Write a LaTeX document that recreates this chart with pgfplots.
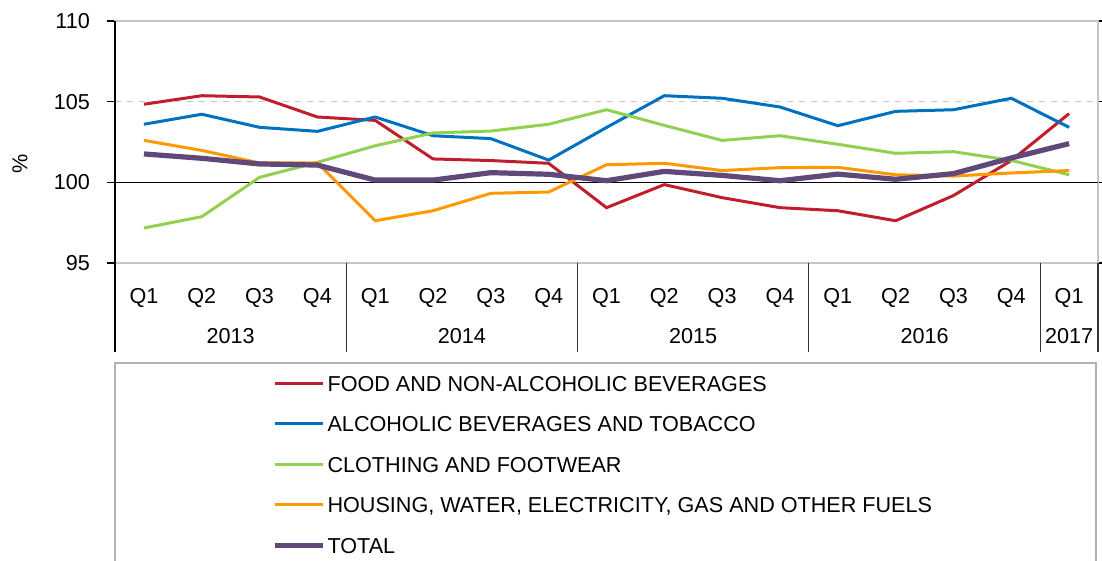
\documentclass[border=0pt]{standalone}
\usepackage{fontspec}
\setmainfont{Liberation Sans}
\usepackage{pgfplots}
\usepackage{pgfplotstable}
\pgfplotsset{compat=1.18}
\definecolor{cFood}{RGB}{192,30,45}
\definecolor{cAlc}{RGB}{0,112,192}
\definecolor{cCloth}{RGB}{146,208,80}
\definecolor{cHouse}{RGB}{255,153,0}
\definecolor{cTotal}{RGB}{96,73,122}
\pgfplotstableread{
x food alc cloth house total
0  104.84 103.60 97.17 102.60 101.76
1  105.37 104.22 97.87 101.98 101.49
2  105.29 103.41 100.31 101.20 101.14
3  104.05 103.16 101.24 101.20 101.07
4  103.84 104.05 102.27 97.62 100.14
5  101.45 102.89 103.06 98.24 100.14
6  101.35 102.71 103.18 99.32 100.60
7  101.18 101.38 103.60 99.40 100.50
8  98.43 103.40 104.50 101.09 100.10
9  99.86 105.37 103.53 101.18 100.68
10 99.05 105.21 102.60 100.73 100.43
11 98.43 104.67 102.89 100.91 100.10
12 98.24 103.51 102.36 100.93 100.51
13 97.62 104.40 101.80 100.47 100.19
14 99.18 104.50 101.90 100.39 100.54
15 101.35 105.21 101.36 100.58 101.51
16 104.26 103.41 100.47 100.73 102.40
}\datatable
\begin{document}
\begin{tikzpicture}[font=\fontsize{10.8}{13}\selectfont]
\clip (0pt,0pt) rectangle (551pt,-280.5pt);
\begin{axis}[
  at={(57.5pt,-131.5pt)}, anchor=south west,
  scale only axis, width=491.5pt, height=121pt,
  xmin=-0.5, xmax=16.5, ymin=95, ymax=110,
  clip=false,
  /pgf/number format/assume math mode=true,
  ytick={95,100,105,110},
  yticklabel style={font=\fontsize{10.8}{13}\selectfont, xshift=-5pt},
  xtick={0,...,16},
  xticklabels={Q1,Q2,Q3,Q4,Q1,Q2,Q3,Q4,Q1,Q2,Q3,Q4,Q1,Q2,Q3,Q4,Q1},
  xticklabel style={font=\fontsize{10.8}{13}\selectfont, anchor=base, yshift=-16pt},
  extra x ticks={1.5,5.5,9.5,13.5,16},
  extra x tick labels={2013,2014,2015,2016,2017},
  extra x tick style={xticklabel style={yshift=-20pt}},
  xtick style={draw=none},
  ytick style={black, line width=0.6pt},
  tick align=outside, major tick length=4pt,
  ymajorgrids, grid style={dashed, gray!45, line width=0.6pt},
  axis line style={gray!45, line width=0.8pt},
  ylabel={\%},
  ylabel style={at={(axis description cs:-0.0966,0.41)}, anchor=center, font=\fontsize{10.8}{13}\selectfont},
  legend cell align=left,
  legend style={at={(axis description cs:0.1597,-0.463)}, anchor=north west,
    draw=none, fill=none, inner sep=0pt, row sep=12.35pt, column sep=1pt,
    font=\fontsize{10.8}{13}\selectfont,
    nodes={inner sep=0pt, text height=7.9pt, text depth=0pt}},
  legend image code/.code={\draw[#1] (0pt,0pt) -- (24pt,0pt);},
]
\draw[dashed, gray!45, line width=0.8pt] (axis cs:-0.5,110) -- (axis cs:16.5,110);
\draw[black, line width=0.8pt] (axis cs:-0.5,100) -- (axis cs:16.5,100);
\draw[black, line width=0.8pt] (axis cs:-0.5,110) -- (axis cs:-0.5,95) -- ++(0pt,-44.5pt);
\draw[black!80, line width=0.6pt] (axis cs:3.5,95) -- ++(0pt,-44.5pt);
\draw[black!80, line width=0.6pt] (axis cs:7.5,95) -- ++(0pt,-44.5pt);
\draw[black!80, line width=0.6pt] (axis cs:11.5,95) -- ++(0pt,-44.5pt);
\draw[black!80, line width=0.6pt] (axis cs:15.5,95) -- ++(0pt,-44.5pt);
\draw[black!80, line width=0.6pt] (axis cs:16.5,95) -- ++(0pt,-44.5pt);
\addplot[cFood, line width=1.5pt] table[x=x,y=food] {\datatable};
\addlegendentry{FOOD AND NON-ALCOHOLIC BEVERAGES}
\addplot[cAlc, line width=1.5pt] table[x=x,y=alc] {\datatable};
\addlegendentry{ALCOHOLIC BEVERAGES AND TOBACCO}
\addplot[cCloth, line width=1.5pt] table[x=x,y=cloth] {\datatable};
\addlegendentry{CLOTHING AND FOOTWEAR}
\addplot[cHouse, line width=1.5pt] table[x=x,y=house] {\datatable};
\addlegendentry{HOUSING, WATER, ELECTRICITY, GAS AND OTHER FUELS}
\addplot[cTotal, line width=2.6pt] table[x=x,y=total] {\datatable};
\addlegendentry{TOTAL}
\end{axis}
\draw[gray!60, line width=0.8pt] (57.5pt,-300pt) -- (57.5pt,-181.5pt) -- (548pt,-181.5pt) -- (548pt,-300pt);
\end{tikzpicture}
\end{document}
